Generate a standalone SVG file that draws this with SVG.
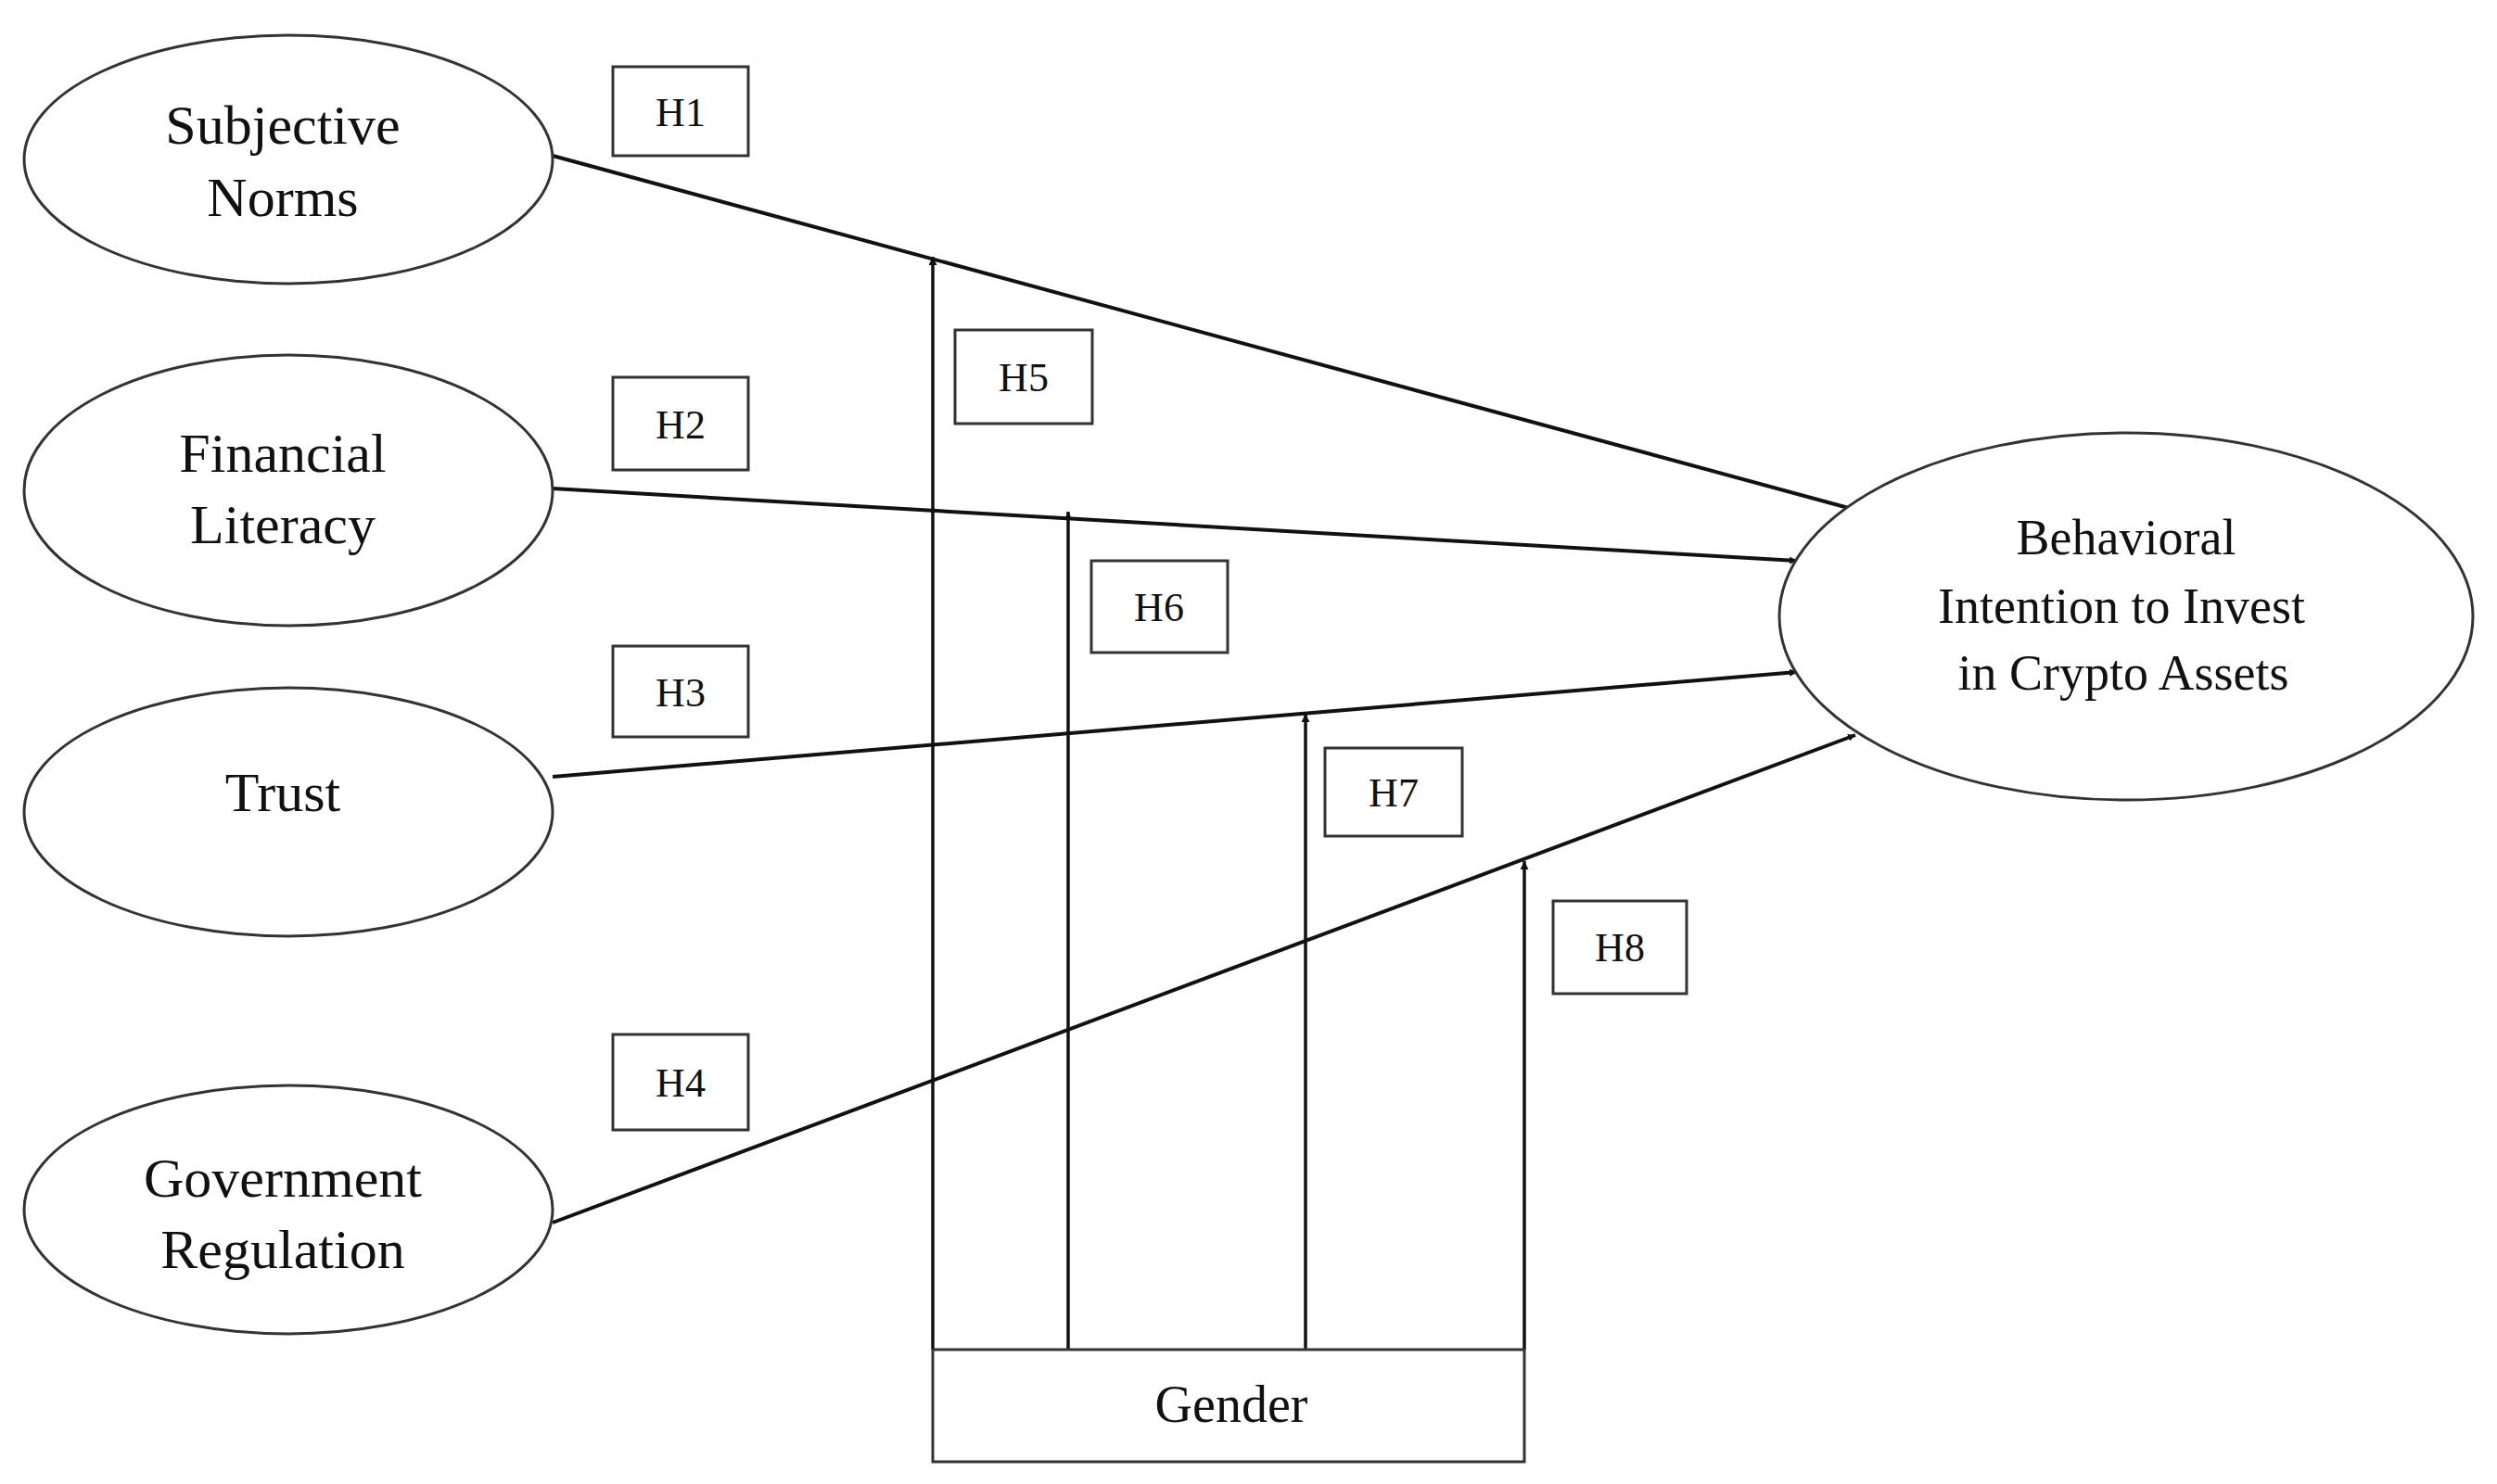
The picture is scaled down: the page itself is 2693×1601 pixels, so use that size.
<svg xmlns="http://www.w3.org/2000/svg" width="2693" height="1601" viewBox="0 0 2693 1601">
<style>
.n{fill:#fff;stroke:#333;stroke-width:3}
.b{fill:#fff;stroke:#333;stroke-width:3}
text{font-family:"Liberation Serif","Times New Roman",serif;fill:#111;text-anchor:middle;dominant-baseline:central}
.t{font-size:60px}
.h{font-size:44px}
.c{stroke:#111;stroke-width:4;fill:none}
.v{stroke:#111;stroke-width:3.5;fill:none}
</style>
<defs>
<marker id="a" viewBox="0 0 10 10" refX="10" refY="5" markerWidth="8" markerHeight="8" markerUnits="userSpaceOnUse" orient="auto"><path d="M0,0L10,5L0,10z" fill="#111"/></marker>
<marker id="av" viewBox="0 0 10 10" refX="10" refY="5" markerWidth="9" markerHeight="9" markerUnits="userSpaceOnUse" orient="auto"><path d="M0,0L10,5L0,10z" fill="#111"/></marker>
</defs>
<rect width="2693" height="1601" fill="#fff"/>
<g id="connectors">
<line class="c" x1="596" y1="168" x2="2001" y2="550" marker-end="url(#a)" style="marker-end:url(#a)"/>
<line class="c" x1="596" y1="527" x2="1938" y2="605" marker-end="url(#a)"/>
<line class="c" x1="596" y1="838" x2="1938" y2="725" marker-end="url(#a)"/>
<line class="c" x1="596" y1="1319" x2="2001" y2="793" marker-end="url(#a)"/>
<line class="v" x1="1006" y1="1456" x2="1006" y2="277" marker-end="url(#av)"/>
<line class="v" x1="1152" y1="1456" x2="1152" y2="552" marker-end="url(#av)"/>
<line class="v" x1="1408" y1="1456" x2="1408" y2="770" marker-end="url(#av)"/>
<line class="v" x1="1644" y1="1456" x2="1644" y2="929" marker-end="url(#av)"/>
</g>
<g id="subjective-norms"><ellipse class="n" cx="311" cy="172" rx="285" ry="134"/><text class="t" x="305" y="135">Subjective</text><text class="t" x="305" y="213">Norms</text></g>
<g id="financial-literacy"><ellipse class="n" cx="311" cy="529" rx="285" ry="146"/><text class="t" x="305" y="489">Financial</text><text class="t" x="305" y="566">Literacy</text></g>
<g id="trust"><ellipse class="n" cx="311" cy="876" rx="285" ry="134"/><text class="t" x="305" y="855">Trust</text></g>
<g id="government-regulation"><ellipse class="n" cx="311" cy="1305" rx="285" ry="134"/><text class="t" x="305" y="1271">Government</text><text class="t" x="305" y="1348">Regulation</text></g>
<g id="behavioral-intention"><ellipse class="n" cx="2293" cy="665" rx="374" ry="198"/><text class="h" style="font-size:54px" x="2293" y="580">Behavioral</text><text class="h" style="font-size:54px" x="2288" y="654">Intention to Invest</text><text class="h" style="font-size:54px" x="2290" y="726">in Crypto Assets</text></g>
<g id="gender"><rect class="b" x="1006" y="1456" width="638" height="121"/><text class="t" style="font-size:56px" x="1328" y="1515">Gender</text></g>
<g id="H1"><rect class="b" x="661" y="72" width="146" height="96"/><text class="h" x="734" y="121">H1</text></g>
<g id="H2"><rect class="b" x="661" y="407" width="146" height="100"/><text class="h" x="734" y="458">H2</text></g>
<g id="H3"><rect class="b" x="661" y="697" width="146" height="98"/><text class="h" x="734" y="747">H3</text></g>
<g id="H4"><rect class="b" x="661" y="1116" width="146" height="103"/><text class="h" x="734" y="1168">H4</text></g>
<g id="H5"><rect class="b" x="1030" y="356" width="148" height="101"/><text class="h" x="1104" y="407">H5</text></g>
<g id="H6"><rect class="b" x="1177" y="605" width="147" height="99"/><text class="h" x="1250" y="655">H6</text></g>
<g id="H7"><rect class="b" x="1429" y="807" width="148" height="95"/><text class="h" x="1503" y="855">H7</text></g>
<g id="H8"><rect class="b" x="1675" y="972" width="144" height="100"/><text class="h" x="1747" y="1022">H8</text></g>
</svg>
